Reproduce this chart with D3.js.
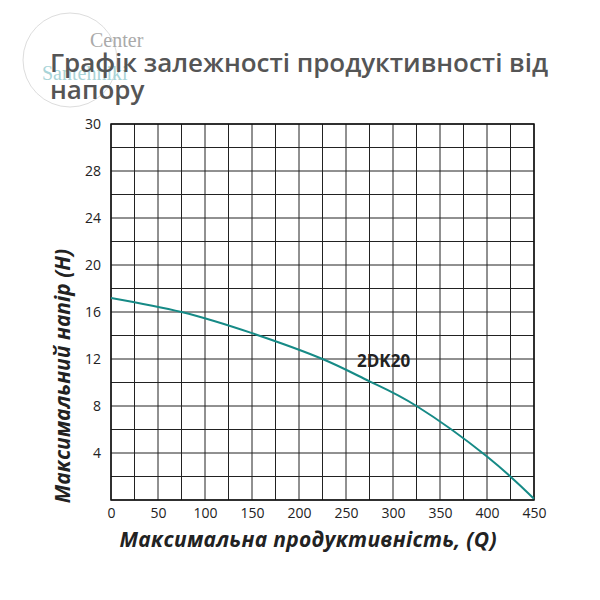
<!DOCTYPE html><html><head><meta charset="utf-8"><script src="https://cdn.jsdelivr.net/npm/d3@7"></script>
<style>body{margin:0;background:#fff}</style></head><body><svg id="c" width="600" height="600"></svg><script>
const flow=[0,75,150,225,275,325,400,450];
const head=[17.2,16,14.2,12,10.1,8,3.7,0.1];
const xTicks=[0,50,100,150,200,250,300,350,400,450];
const yTicks=[4,8,12,16,20,24,28,32];
const yLabels=["4","8","12","16","20","24","28","30"];
const svg=d3.select("#c");
const x=d3.scaleLinear().domain([0,450]).range([111,534]);
const y=d3.scaleLinear().domain([0,32]).range([500,124]);
svg.append("circle").attr("cx",70).attr("cy",60).attr("r",47).attr("fill","none").attr("stroke","#ddd");
svg.append("text").attr("x",90).attr("y",47).attr("font-family","Liberation Serif").attr("font-size",20).attr("fill","#aaa").text("Center");
svg.append("text").attr("x",42).attr("y",80).attr("font-family","Liberation Serif").attr("font-size",20).attr("fill","#a8d4d8").text("Santehniki");
const g=svg.append("g");
d3.range(0,451,25).forEach(v=>g.append("line").attr("x1",x(v)).attr("x2",x(v)).attr("y1",y(0)).attr("y2",y(32)).attr("stroke","#222").attr("stroke-width",1));
d3.range(0,33,2).forEach(v=>g.append("line").attr("x1",x(0)).attr("x2",x(450)).attr("y1",y(v)).attr("y2",y(v)).attr("stroke","#222").attr("stroke-width",1));
g.append("rect").attr("x",x(0)).attr("y",y(32)).attr("width",x(450)-x(0)).attr("height",y(0)-y(32)).attr("fill","none").attr("stroke","#111").attr("stroke-width",1.5);
const xa=svg.append("g").attr("transform",`translate(0,${y(0)})`).call(d3.axisBottom(x).tickValues(xTicks).tickSize(0).tickPadding(8));
const ya=svg.append("g").attr("transform",`translate(${x(0)},0)`).call(d3.axisLeft(y).tickValues(yTicks).tickFormat((d,i)=>yLabels[i]).tickSize(0).tickPadding(10));
[xa,ya].forEach(a=>{a.select(".domain").remove();a.selectAll("text").attr("font-family","Open Sans").attr("font-size",14).attr("fill","#222");});
svg.append("path").datum(flow.map((f,i)=>[f,head[i]])).attr("d",d3.line().x(d=>x(d[0])).y(d=>y(d[1])).curve(d3.curveNatural)).attr("fill","none").attr("stroke","#168a86").attr("stroke-width",2);
svg.append("text").attr("x",x(290)).attr("y",y(11.3)).attr("text-anchor","middle").attr("font-family","Open Sans").attr("font-weight","bold").attr("font-size",17).attr("fill","#222").text("2DK20");
svg.append("text").attr("x",50).attr("y",72).attr("font-family","Open Sans").attr("font-weight","600").attr("font-size",26).attr("fill","#555").attr("textLength",498).text("Графік залежності продуктивності від");
svg.append("text").attr("x",50).attr("y",99).attr("font-family","Open Sans").attr("font-weight","600").attr("font-size",26).attr("fill","#555").text("напору");
svg.append("text").attr("x",308).attr("y",547).attr("text-anchor","middle").attr("font-family","Open Sans").attr("font-weight","bold").attr("font-style","italic").attr("font-size",21).attr("fill","#222").attr("textLength",377).text("Максимальна продуктивність, (Q)");
svg.append("text").attr("transform","translate(70,376) rotate(-90)").attr("text-anchor","middle").attr("font-family","Open Sans").attr("font-weight","bold").attr("font-style","italic").attr("font-size",21).attr("fill","#222").text("Максимальний напір (H)");
</script></body></html>
